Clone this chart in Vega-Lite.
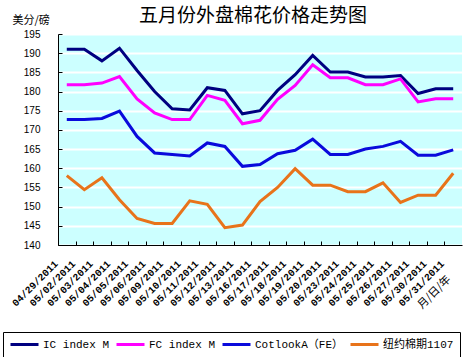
{
  "$schema": "https://vega.github.io/schema/vega-lite/v6.json",
  "width": 404,
  "height": 211,
  "autosize": "none",
  "padding": {"left": 58, "top": 34, "right": 7, "bottom": 112},
  "background": "white",
  "title": {"text": "五月份外盘棉花价格走势图", "font": "Noto Sans CJK SC", "fontSize": 19, "fontWeight": "normal", "color": "black", "anchor": "middle", "baseline": "bottom", "offset": 10, "dx": -7, "dy": 41},
  "config": {"view": {"fill": "#CCFFFF", "stroke": null}},
  "datasets": {
    "prices": [
      {"date": "04/29/2011", "series": "IC index M", "value": 191},
      {"date": "05/02/2011", "series": "IC index M", "value": 191},
      {"date": "05/03/2011", "series": "IC index M", "value": 188},
      {"date": "05/04/2011", "series": "IC index M", "value": 191.3},
      {"date": "05/05/2011", "series": "IC index M", "value": 185.5},
      {"date": "05/06/2011", "series": "IC index M", "value": 180},
      {"date": "05/09/2011", "series": "IC index M", "value": 175.5},
      {"date": "05/10/2011", "series": "IC index M", "value": 175.2},
      {"date": "05/11/2011", "series": "IC index M", "value": 181},
      {"date": "05/12/2011", "series": "IC index M", "value": 180.3},
      {"date": "05/13/2011", "series": "IC index M", "value": 174.2},
      {"date": "05/16/2011", "series": "IC index M", "value": 175},
      {"date": "05/17/2011", "series": "IC index M", "value": 180.3},
      {"date": "05/18/2011", "series": "IC index M", "value": 184.4},
      {"date": "05/19/2011", "series": "IC index M", "value": 189.4},
      {"date": "05/20/2011", "series": "IC index M", "value": 185.1},
      {"date": "05/23/2011", "series": "IC index M", "value": 185.1},
      {"date": "05/24/2011", "series": "IC index M", "value": 183.8},
      {"date": "05/25/2011", "series": "IC index M", "value": 183.8},
      {"date": "05/26/2011", "series": "IC index M", "value": 184.2},
      {"date": "05/27/2011", "series": "IC index M", "value": 179.5},
      {"date": "05/30/2011", "series": "IC index M", "value": 180.7},
      {"date": "05/31/2011", "series": "IC index M", "value": 180.7},
      {"date": "04/29/2011", "series": "FC index M", "value": 181.8},
      {"date": "05/02/2011", "series": "FC index M", "value": 181.8},
      {"date": "05/03/2011", "series": "FC index M", "value": 182.2},
      {"date": "05/04/2011", "series": "FC index M", "value": 183.9},
      {"date": "05/05/2011", "series": "FC index M", "value": 178.1},
      {"date": "05/06/2011", "series": "FC index M", "value": 174.4},
      {"date": "05/09/2011", "series": "FC index M", "value": 172.7},
      {"date": "05/10/2011", "series": "FC index M", "value": 172.7},
      {"date": "05/11/2011", "series": "FC index M", "value": 179},
      {"date": "05/12/2011", "series": "FC index M", "value": 177.7},
      {"date": "05/13/2011", "series": "FC index M", "value": 171.6},
      {"date": "05/16/2011", "series": "FC index M", "value": 172.5},
      {"date": "05/17/2011", "series": "FC index M", "value": 178},
      {"date": "05/18/2011", "series": "FC index M", "value": 181.6},
      {"date": "05/19/2011", "series": "FC index M", "value": 187},
      {"date": "05/20/2011", "series": "FC index M", "value": 183.6},
      {"date": "05/23/2011", "series": "FC index M", "value": 183.6},
      {"date": "05/24/2011", "series": "FC index M", "value": 181.8},
      {"date": "05/25/2011", "series": "FC index M", "value": 181.8},
      {"date": "05/26/2011", "series": "FC index M", "value": 183.3},
      {"date": "05/27/2011", "series": "FC index M", "value": 177.3},
      {"date": "05/30/2011", "series": "FC index M", "value": 178.1},
      {"date": "05/31/2011", "series": "FC index M", "value": 178.1},
      {"date": "04/29/2011", "series": "CotlookA（FE）", "value": 172.7},
      {"date": "05/02/2011", "series": "CotlookA（FE）", "value": 172.7},
      {"date": "05/03/2011", "series": "CotlookA（FE）", "value": 173},
      {"date": "05/04/2011", "series": "CotlookA（FE）", "value": 174.9},
      {"date": "05/05/2011", "series": "CotlookA（FE）", "value": 168.3},
      {"date": "05/06/2011", "series": "CotlookA（FE）", "value": 164},
      {"date": "05/09/2011", "series": "CotlookA（FE）", "value": 163.6},
      {"date": "05/10/2011", "series": "CotlookA（FE）", "value": 163.2},
      {"date": "05/11/2011", "series": "CotlookA（FE）", "value": 166.6},
      {"date": "05/12/2011", "series": "CotlookA（FE）", "value": 165.7},
      {"date": "05/13/2011", "series": "CotlookA（FE）", "value": 160.5},
      {"date": "05/16/2011", "series": "CotlookA（FE）", "value": 161},
      {"date": "05/17/2011", "series": "CotlookA（FE）", "value": 163.8},
      {"date": "05/18/2011", "series": "CotlookA（FE）", "value": 164.7},
      {"date": "05/19/2011", "series": "CotlookA（FE）", "value": 167.6},
      {"date": "05/20/2011", "series": "CotlookA（FE）", "value": 163.6},
      {"date": "05/23/2011", "series": "CotlookA（FE）", "value": 163.6},
      {"date": "05/24/2011", "series": "CotlookA（FE）", "value": 165},
      {"date": "05/25/2011", "series": "CotlookA（FE）", "value": 165.7},
      {"date": "05/26/2011", "series": "CotlookA（FE）", "value": 167},
      {"date": "05/27/2011", "series": "CotlookA（FE）", "value": 163.4},
      {"date": "05/30/2011", "series": "CotlookA（FE）", "value": 163.4},
      {"date": "05/31/2011", "series": "CotlookA（FE）", "value": 164.8},
      {"date": "04/29/2011", "series": "纽约棉期1107", "value": 158.1},
      {"date": "05/02/2011", "series": "纽约棉期1107", "value": 154.4},
      {"date": "05/03/2011", "series": "纽约棉期1107", "value": 157.5},
      {"date": "05/04/2011", "series": "纽约棉期1107", "value": 151.8},
      {"date": "05/05/2011", "series": "纽约棉期1107", "value": 146.9},
      {"date": "05/06/2011", "series": "纽约棉期1107", "value": 145.6},
      {"date": "05/09/2011", "series": "纽约棉期1107", "value": 145.6},
      {"date": "05/10/2011", "series": "纽约棉期1107", "value": 151.5},
      {"date": "05/11/2011", "series": "纽约棉期1107", "value": 150.6},
      {"date": "05/12/2011", "series": "纽约棉期1107", "value": 144.5},
      {"date": "05/13/2011", "series": "纽约棉期1107", "value": 145.2},
      {"date": "05/16/2011", "series": "纽约棉期1107", "value": 151.3},
      {"date": "05/17/2011", "series": "纽约棉期1107", "value": 155},
      {"date": "05/18/2011", "series": "纽约棉期1107", "value": 159.9},
      {"date": "05/19/2011", "series": "纽约棉期1107", "value": 155.6},
      {"date": "05/20/2011", "series": "纽约棉期1107", "value": 155.6},
      {"date": "05/23/2011", "series": "纽约棉期1107", "value": 153.9},
      {"date": "05/24/2011", "series": "纽约棉期1107", "value": 153.9},
      {"date": "05/25/2011", "series": "纽约棉期1107", "value": 156.2},
      {"date": "05/26/2011", "series": "纽约棉期1107", "value": 151.1},
      {"date": "05/27/2011", "series": "纽约棉期1107", "value": 153},
      {"date": "05/30/2011", "series": "纽约棉期1107", "value": 153},
      {"date": "05/31/2011", "series": "纽约棉期1107", "value": 158.7}
    ]
  },
  "data": {"name": "prices"},
  "mark": {"type": "line", "strokeWidth": 3},
  "encoding": {
    "x": {
      "field": "date", "type": "ordinal", "sort": null,
      "axis": {
        "labelAngle": -45, "labelAlign": "right", "labelBaseline": "middle",
        "labelFont": "Liberation Mono", "labelFontWeight": "bold", "labelFontSize": 10, "labelColor": "black",
        "labelOverlap": false, "tickOffset": -8.78, "labelOffset": -2.2, "labelPadding": 21,
        "tickSize": -4, "tickColor": "black", "domainColor": "black", "grid": false,
        "title": "月/日/年", "titleAngle": -45, "titleX": 376, "titleY": 47,
        "titleAlign": "center", "titleBaseline": "middle", "titleFont": "Noto Sans CJK SC",
        "titleFontSize": 11, "titleFontWeight": "normal", "titleColor": "black"
      }
    },
    "y": {
      "field": "value", "type": "quantitative",
      "scale": {"domain": [140, 195], "nice": false, "zero": false},
      "axis": {
        "values": [140, 145, 150, 155, 160, 165, 170, 175, 180, 185, 190, 195],
        "grid": true, "gridColor": "white", "gridWidth": 2,
        "domainColor": "black", "tickColor": "black", "tickSize": -4,
        "labelFont": "Liberation Sans", "labelFontSize": 10, "labelColor": "black", "labelPadding": 22,
        "title": "美分/磅", "titleAngle": 0, "titleX": -46, "titleY": -14,
        "titleAlign": "left", "titleBaseline": "middle", "titleFont": "Noto Sans CJK SC",
        "titleFontSize": 11, "titleFontWeight": "normal", "titleColor": "black"
      }
    },
    "color": {
      "field": "series", "type": "nominal",
      "scale": {
        "domain": ["IC index M", "FC index M", "CotlookA（FE）", "纽约棉期1107"],
        "range": ["#000080", "#FF00FF", "#0A0ADC", "#E8731A"]
      },
      "legend": {
        "orient": "none", "legendX": -55, "legendY": 298, "direction": "horizontal",
        "title": null, "symbolType": "stroke", "symbolSize": 784, "symbolStrokeWidth": 3,
        "clipHeight": 13,
        "labelFont": "Liberation Mono, Noto Sans CJK SC", "labelFontSize": 11, "labelColor": "black",
        "labelOffset": 3, "columnPadding": 5, "padding": 6,
        "strokeColor": "black", "fillColor": "white"
      }
    }
  }
}
